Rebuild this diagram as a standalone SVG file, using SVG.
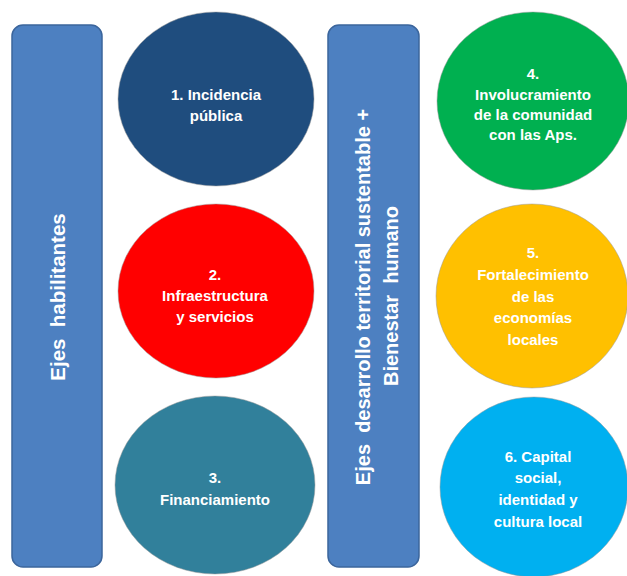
<svg xmlns="http://www.w3.org/2000/svg" width="627" height="576" viewBox="0 0 627 576">
<style>
.bar{fill:#4d80c1;stroke:#3b659c;stroke-width:1.5}
.circ{stroke:#9a9a9a;stroke-opacity:0.5;stroke-width:1}
.ct{font-family:"Liberation Sans",Arial,sans-serif;font-weight:bold;font-size:15px;fill:#ffffff;text-anchor:middle}
.bt{font-family:"Liberation Sans",Arial,sans-serif;font-weight:bold;font-size:20px;fill:#ffffff;text-anchor:middle;white-space:pre}
</style>
<rect width="627" height="576" fill="#ffffff"/>
<g id="bar-habilitantes">
<rect class="bar" x="12" y="25" width="90" height="542" rx="11" ry="11"/>
<text class="bt" xml:space="preserve" style="font-size:20.5px" transform="translate(65,297) rotate(-90)">Ejes  habilitantes</text>
</g>
<g id="bar-desarrollo">
<rect class="bar" x="328" y="25" width="91" height="542" rx="11" ry="11"/>
<text class="bt" xml:space="preserve" transform="translate(370,297) rotate(-90)">Ejes  desarrollo territorial sustentable +</text>
<text class="bt" xml:space="preserve" transform="translate(398,296) rotate(-90)">Bienestar  humano</text>
</g>
<g id="node1">
<ellipse class="circ" cx="216" cy="99" rx="98" ry="87" fill="#1f4d7e"/>
<text class="ct" x="216" y="100">1. Incidencia</text>
<text class="ct" x="216" y="121">pública</text>
</g>
<g id="node2">
<ellipse class="circ" cx="216" cy="291" rx="98" ry="87" fill="#ff0000"/>
<text class="ct" x="215" y="280">2.</text>
<text class="ct" x="215" y="301">Infraestructura</text>
<text class="ct" x="215" y="322">y servicios</text>
</g>
<g id="node3">
<ellipse class="circ" cx="215" cy="485" rx="100" ry="89" fill="#31809b"/>
<text class="ct" x="215" y="483">3.</text>
<text class="ct" x="215" y="505">Financiamiento</text>
</g>
<g id="node4">
<ellipse class="circ" cx="533" cy="101" rx="96" ry="89" fill="#00b050"/>
<text class="ct" x="533" y="79">4.</text>
<text class="ct" x="533" y="100">Involucramiento</text>
<text class="ct" x="533" y="120">de la comunidad</text>
<text class="ct" x="533" y="140">con las Aps.</text>
</g>
<g id="node5">
<ellipse class="circ" cx="532" cy="296" rx="96" ry="92" fill="#ffc000"/>
<text class="ct" x="533" y="258">5.</text>
<text class="ct" x="533" y="280">Fortalecimiento</text>
<text class="ct" x="533" y="302">de las</text>
<text class="ct" x="533" y="323">economías</text>
<text class="ct" x="533" y="345">locales</text>
</g>
<g id="node6">
<ellipse class="circ" cx="534" cy="487" rx="94" ry="90" fill="#00b0f0"/>
<text class="ct" x="538" y="462">6. Capital</text>
<text class="ct" x="538" y="483">social,</text>
<text class="ct" x="538" y="505">identidad y</text>
<text class="ct" x="538" y="527">cultura local</text>
</g>
<g id="connectors"/>
</svg>
